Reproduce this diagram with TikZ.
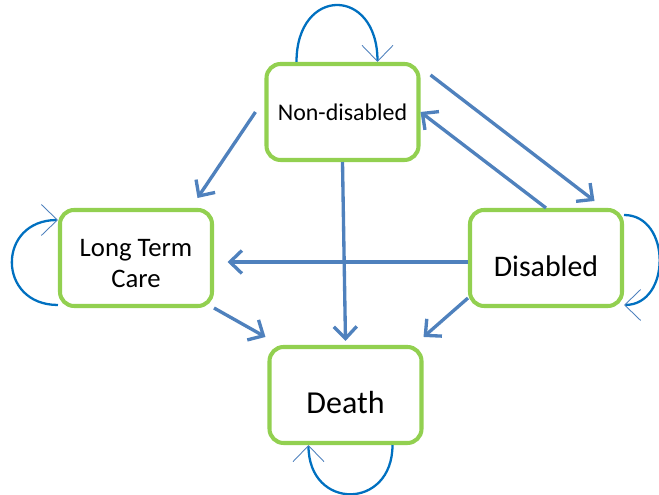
\documentclass[tikz,border=0pt]{standalone}
\usepackage{fontspec}
\setmainfont{Carlito}
\usetikzlibrary{arrows.meta}
\definecolor{boxgreen}{RGB}{146,208,80}
\definecolor{flowblue}{RGB}{79,129,189}
\definecolor{loopblue}{RGB}{0,112,192}
\begin{document}
\begin{tikzpicture}[scale=1]
\tikzstyle{state}=[draw=boxgreen,line width=2.3pt,rounded corners=8pt,fill=white,minimum width=3.04cm,minimum height=1.92cm,align=center,font=\fontsize{13.6}{18}\selectfont]
\tikzstyle{bigstate}=[state,font=\fontsize{17}{20}\selectfont,text height=0.74cm,text depth=0cm]
\tikzstyle{flow}=[draw=flowblue,line width=1.9pt,-{Straight Barb[length=0.24cm,width=0.46cm]}]
\tikzstyle{selfloop}=[draw=loopblue,line width=1.3pt,-{Straight Barb[length=0.32cm,width=0.62cm,line width=0.5pt,color=flowblue]}]
\useasboundingbox (0,0) rectangle (13.18,9.9);
\node[state] (nd) at (6.85,7.66) {Non-disabled};
\node[state,font=\fontsize{15.2}{18}\selectfont,text height=1.2cm,text depth=0cm] (ltc) at (2.72,4.74) {Long Term\\Care};
\node[bigstate] (dis) at (10.92,4.74) {Disabled};
\node[bigstate,font=\fontsize{18.2}{20}\selectfont] (dth) at (6.91,2.0) {Death};
\draw[flow] ([xshift=-0.18cm]nd.west) -- ([xshift=-0.33cm,yshift=0.2cm]ltc.north east);
\draw[flow] ([xshift=0.2cm,yshift=-0.26cm]nd.north east) -- ([xshift=-0.59cm,yshift=0.14cm]dis.north east);
\draw[flow] (dis.north) -- (nd.east);
\draw[flow] (nd.south) -- ([yshift=0.08cm]dth.north);
\draw[flow] ([yshift=-0.08cm]dis.west) -- ([xshift=0.27cm,yshift=-0.08cm]ltc.east);
\draw[flow] (ltc.south east) -- ([xshift=-0.04cm,yshift=0.16cm]dth.north west);
\draw[flow] ([yshift=0.2cm]dis.south west) -- ([yshift=0.16cm]dth.north east);
\draw[selfloop] ([xshift=-0.92cm]nd.north) to[out=90,in=90,looseness=2.4] ([xshift=0.7cm]nd.north);
\draw[selfloop] ([yshift=-0.94cm]ltc.west) to[out=180,in=180,looseness=1.85] ([yshift=0.76cm]ltc.west);
\draw[selfloop] ([yshift=0.86cm]dis.east) to[out=0,in=0,looseness=1.35] ([yshift=-0.94cm]dis.east);
\draw[selfloop] ([xshift=0.94cm]dth.south) to[out=270,in=270,looseness=2.0] ([xshift=-0.74cm]dth.south);
\end{tikzpicture}
\end{document}
